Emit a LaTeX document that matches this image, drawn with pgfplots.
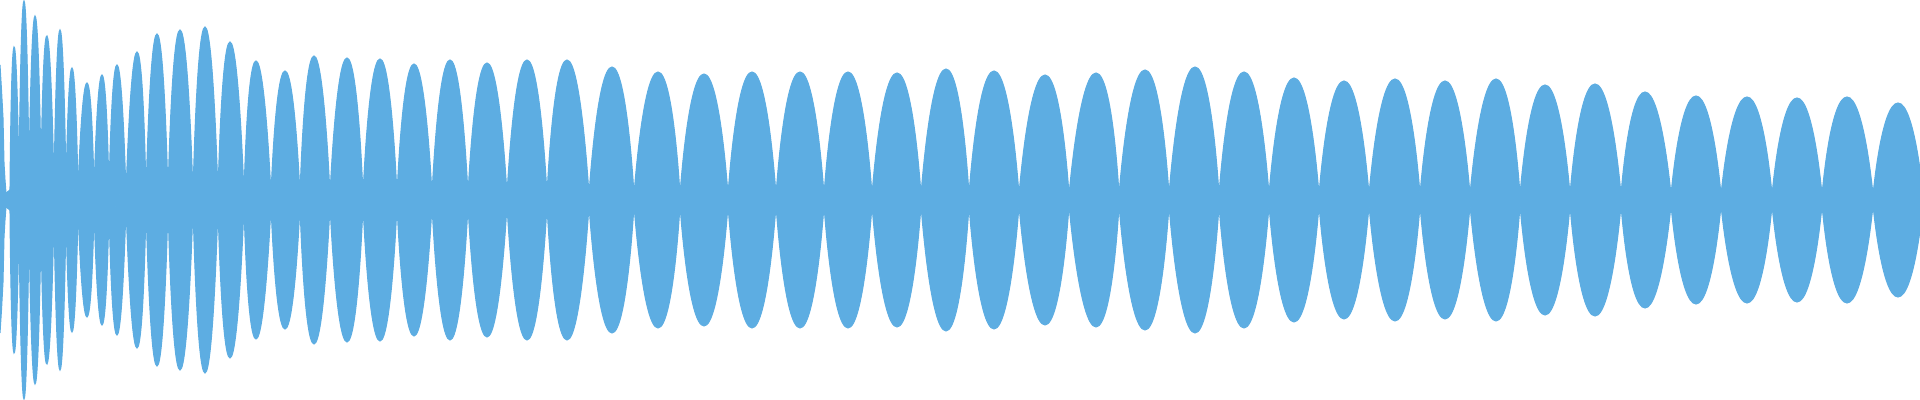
\documentclass[border=0pt]{standalone}
\usepackage{pgfplots}
\pgfplotsset{compat=1.18}
\usepackage{pgfplotstable}
\definecolor{wave}{RGB}{93,173,226}
% one row per lobe: left node (x1,n1), peak (xp,h), right node (x2,n2); half-heights in px
\pgfplotstableread{
x1 n1 xp h x2 n2
10 10 14 153 19 22
19 22 24 199 29 22
29 22 35 184 41 25
41 25 47 164 54 12
54 12 60 170 66 12
66 12 72 132 78 10
78 10 87 117 94 8
94 8 102 125 109 7
109 7 117 135 126 5
126 5 137 148 146 5
146 5 157 166 168 5
168 5 180 170 193 5
193 5 205 173 218 5
218 5 230 158 244 5
244 5 256 139 271 5
271 5 285 129 300 5
300 5 314 144 330 5
330 5 347 142 363 5
363 5 380 141 397 5
397 5 414 136 432 5
432 5 450 140 468 5
468 5 487 137 507 5
507 5 527 140 547 5
547 5 567 140 589 5
589 5 612 133 634 5
634 5 658 128 680 5
680 5 704 126 728 5
728 5 752 128 776 5
776 5 800 128 824 5
824 5 848 128 872 5
872 5 897 127 921 5
921 5 946 131 969 5
969 5 994 129 1019 5
1019 5 1045 125 1069 5
1069 5 1096 127 1119 5
1119 5 1145 130 1169 5
1169 5 1195 133 1219 5
1219 5 1244 128 1269 5
1269 5 1294 122 1319 5
1319 5 1344 119 1369 5
1369 5 1395 121 1420 5
1420 5 1445 119 1470 5
1470 5 1496 121 1520 5
1520 5 1545 115 1570 5
1570 5 1595 116 1621 5
1621 5 1645 108 1671 5
1671 5 1696 104 1721 5
1721 5 1747 103 1772 5
1772 5 1797 102 1822 5
1822 5 1847 103 1873 5
1873 5 1898 97 1923 5
}\lobes
\pgfplotsset{lobe/.style={draw=wave, line width=0.3pt, fill=wave, smooth, tension=1.2}}
\begin{document}
\begin{tikzpicture}
\begin{axis}[
  width=19.2cm, height=4cm, scale only axis,
  hide axis, clip=true,
  xmin=0, xmax=1920, ymin=-200, ymax=200,
]
\pgfplotsinvokeforeach{0,...,50}{%
  \pgfplotstablegetelem{#1}{x1}\of\lobes \let\La\pgfplotsretval
  \pgfplotstablegetelem{#1}{n1}\of\lobes \let\Lna\pgfplotsretval
  \pgfplotstablegetelem{#1}{xp}\of\lobes \let\Lp\pgfplotsretval
  \pgfplotstablegetelem{#1}{h}\of\lobes  \let\Lh\pgfplotsretval
  \pgfplotstablegetelem{#1}{x2}\of\lobes \let\Lb\pgfplotsretval
  \pgfplotstablegetelem{#1}{n2}\of\lobes \let\Lnb\pgfplotsretval
  \edef\Ltemp{%
    \noexpand\addplot[lobe] coordinates {(\La,\Lna) (\Lp,\Lh) (\Lb,\Lnb)};
    \noexpand\addplot[lobe] coordinates {(\La,-\Lna) (\Lp,-\Lh) (\Lb,-\Lnb)};
  }%
  \Ltemp
}
% central band through the nodes
\addplot[draw=wave, line width=0.3pt, fill=wave] coordinates {
  (0,7) (6,7) (10,10) (19,22) (29,22) (41,25) (54,12) (66,12) (78,10) (94,8) (109,7) (126,5) (1925,5)
  (1925,-5) (126,-5) (109,-7) (94,-8) (78,-10) (66,-12) (54,-12) (41,-25) (29,-22) (19,-22) (10,-10) (6,-7) (0,-7)
};
% partial lobe at the left edge
\addplot[draw=wave, line width=0.3pt, fill=wave] coordinates {
  (0,135) (1.5,110) (3,82) (4,37) (5,20) (6,7)
  (6,-7) (5,-20) (4,-37) (3,-82) (1.5,-110) (0,-133)
};
\end{axis}
\pgfresetboundingbox
\path (current axis.south west) rectangle (current axis.north east);
\end{tikzpicture}
\end{document}
